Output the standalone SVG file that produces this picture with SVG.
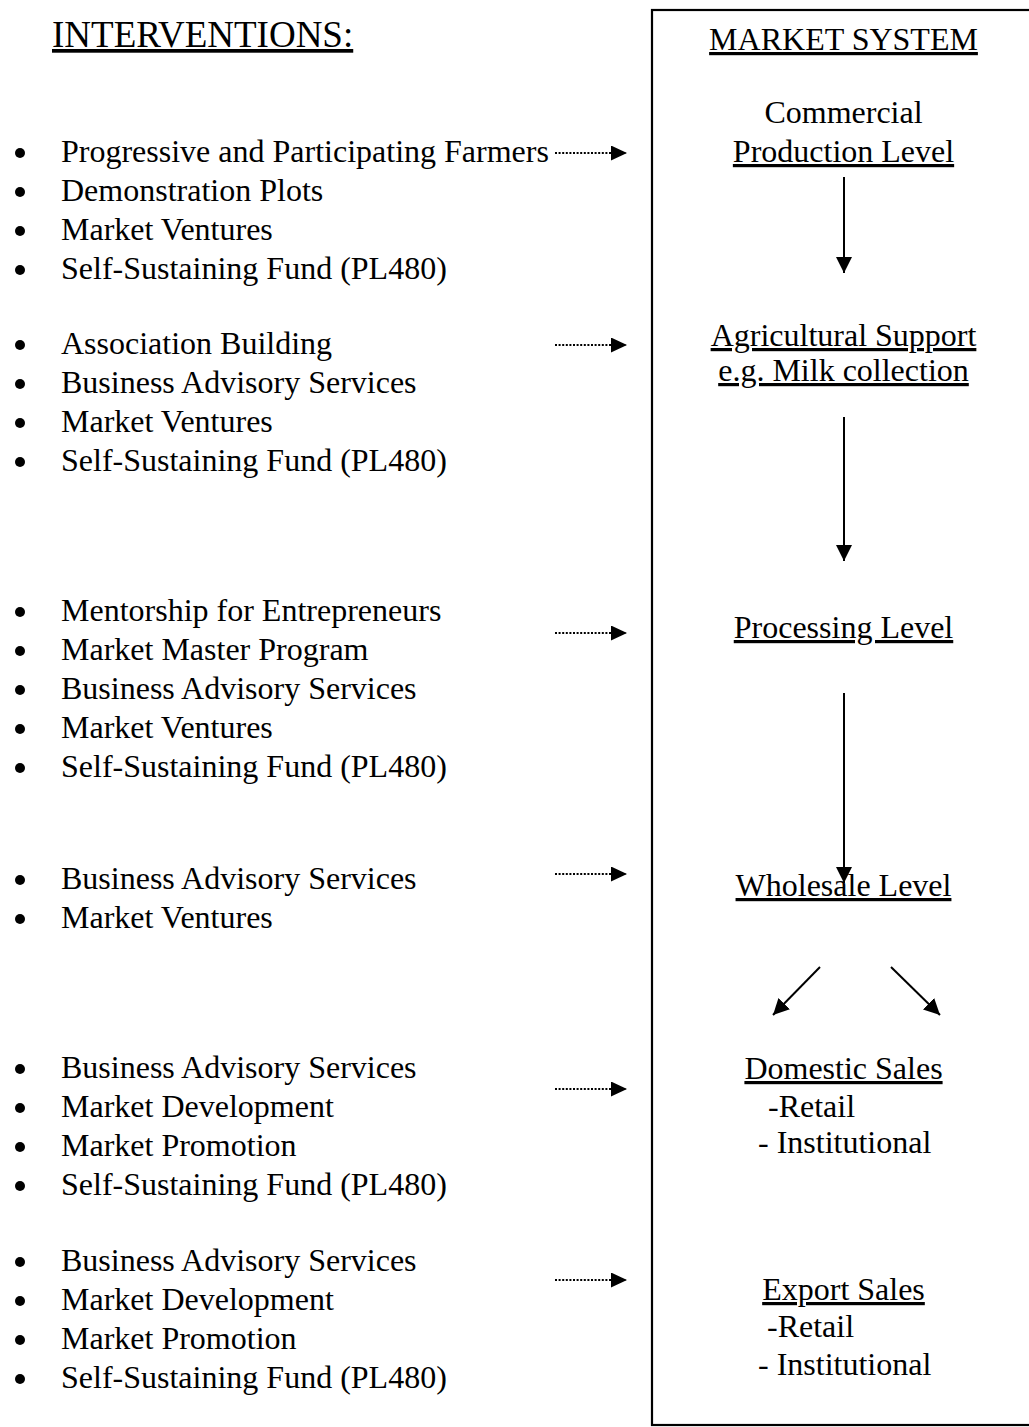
<svg xmlns="http://www.w3.org/2000/svg" width="1029" height="1427" viewBox="0 0 1029 1427">
<style>
text{font-family:"Liberation Serif","Times New Roman",serif;fill:#000}
.b{font-size:32px}
.h{font-size:37px}
.u{text-decoration:underline}
.c{text-anchor:middle}
.dot{stroke:#000;stroke-width:1.8;stroke-dasharray:2 1.6;fill:none}
.sol{stroke:#000;stroke-width:2;fill:none}
.bl{fill:#000}
</style>
<defs>
<marker id="ah" markerUnits="userSpaceOnUse" markerWidth="17" markerHeight="17" viewBox="0 0 17 17" refX="16" refY="7.5" orient="auto">
<path d="M0,0 L16,7.5 L0,15 Z" fill="#000"/>
</marker>
<marker id="av" markerUnits="userSpaceOnUse" markerWidth="18" markerHeight="18" viewBox="0 0 18 18" refX="16" refY="8" orient="auto">
<path d="M0,0 L16,8 L0,16 Z" fill="#000"/>
</marker>
</defs>
<rect width="1029" height="1427" fill="#fff"/>

<g id="interventions-title">
<text class="h u" x="52" y="47">INTERVENTIONS:</text>
</g>

<g id="market-box">
<rect x="652" y="10" width="400" height="1415" fill="none" stroke="#000" stroke-width="2.2"/>
<text class="b u c" x="843.5" y="50">MARKET SYSTEM</text>
</g>

<g id="group1">
<circle class="bl" cx="20" cy="153" r="5"/><text class="b" x="61" y="162">Progressive and Participating Farmers</text>
<circle class="bl" cx="20" cy="192" r="5"/><text class="b" x="61" y="201">Demonstration Plots</text>
<circle class="bl" cx="20" cy="231" r="5"/><text class="b" x="61" y="240">Market Ventures</text>
<circle class="bl" cx="20" cy="270" r="5"/><text class="b" x="61" y="279">Self-Sustaining Fund (PL480)</text>
</g>

<g id="group2">
<circle class="bl" cx="20" cy="345" r="5"/><text class="b" x="61" y="354">Association Building</text>
<circle class="bl" cx="20" cy="384" r="5"/><text class="b" x="61" y="393">Business Advisory Services</text>
<circle class="bl" cx="20" cy="423" r="5"/><text class="b" x="61" y="432">Market Ventures</text>
<circle class="bl" cx="20" cy="462" r="5"/><text class="b" x="61" y="471">Self-Sustaining Fund (PL480)</text>
</g>

<g id="group3">
<circle class="bl" cx="20" cy="612" r="5"/><text class="b" x="61" y="621">Mentorship for Entrepreneurs</text>
<circle class="bl" cx="20" cy="651" r="5"/><text class="b" x="61" y="660">Market Master Program</text>
<circle class="bl" cx="20" cy="690" r="5"/><text class="b" x="61" y="699">Business Advisory Services</text>
<circle class="bl" cx="20" cy="729" r="5"/><text class="b" x="61" y="738">Market Ventures</text>
<circle class="bl" cx="20" cy="768" r="5"/><text class="b" x="61" y="777">Self-Sustaining Fund (PL480)</text>
</g>

<g id="group4">
<circle class="bl" cx="20" cy="880" r="5"/><text class="b" x="61" y="889">Business Advisory Services</text>
<circle class="bl" cx="20" cy="919" r="5"/><text class="b" x="61" y="928">Market Ventures</text>
</g>

<g id="group5">
<circle class="bl" cx="20" cy="1069" r="5"/><text class="b" x="61" y="1078">Business Advisory Services</text>
<circle class="bl" cx="20" cy="1108" r="5"/><text class="b" x="61" y="1117">Market Development</text>
<circle class="bl" cx="20" cy="1147" r="5"/><text class="b" x="61" y="1156">Market Promotion</text>
<circle class="bl" cx="20" cy="1186" r="5"/><text class="b" x="61" y="1195">Self-Sustaining Fund (PL480)</text>
</g>

<g id="group6">
<circle class="bl" cx="20" cy="1262" r="5"/><text class="b" x="61" y="1271">Business Advisory Services</text>
<circle class="bl" cx="20" cy="1301" r="5"/><text class="b" x="61" y="1310">Market Development</text>
<circle class="bl" cx="20" cy="1340" r="5"/><text class="b" x="61" y="1349">Market Promotion</text>
<circle class="bl" cx="20" cy="1379" r="5"/><text class="b" x="61" y="1388">Self-Sustaining Fund (PL480)</text>
</g>

<g id="commercial-production">
<text class="b c" x="843.5" y="123">Commercial</text>
<text class="b u c" x="843.5" y="162">Production Level</text>
</g>

<g id="agricultural-support">
<text class="b u c" x="843.5" y="346">Agricultural Support</text>
<text class="b u c" x="843.5" y="381">e.g. Milk collection</text>
</g>

<g id="processing">
<text class="b u c" x="843.5" y="638">Processing Level</text>
</g>

<g id="wholesale">
<text class="b u c" x="843.5" y="896">Wholesale Level</text>
</g>

<g id="domestic-sales">
<text class="b u c" x="843.5" y="1079">Domestic Sales</text>
<text class="b" x="768" y="1117">-Retail</text>
<text class="b" x="758" y="1153">- Institutional</text>
</g>

<g id="export-sales">
<text class="b u c" x="843.5" y="1300">Export Sales</text>
<text class="b" x="767" y="1337">-Retail</text>
<text class="b" x="758" y="1375">- Institutional</text>
</g>

<g id="connectors">
<line class="dot" x1="555" y1="153" x2="627" y2="153" marker-end="url(#ah)"/>
<line class="dot" x1="555" y1="345" x2="627" y2="345" marker-end="url(#ah)"/>
<line class="dot" x1="555" y1="633" x2="627" y2="633" marker-end="url(#ah)"/>
<line class="dot" x1="555" y1="874" x2="627" y2="874" marker-end="url(#ah)"/>
<line class="dot" x1="555" y1="1089" x2="627" y2="1089" marker-end="url(#ah)"/>
<line class="dot" x1="555" y1="1280" x2="627" y2="1280" marker-end="url(#ah)"/>
<line class="sol" x1="844" y1="177" x2="844" y2="273" marker-end="url(#av)"/>
<line class="sol" x1="844" y1="417" x2="844" y2="561" marker-end="url(#av)"/>
<line class="sol" x1="844" y1="693" x2="844" y2="883" marker-end="url(#av)"/>
<line class="sol" x1="820" y1="967" x2="773" y2="1015" marker-end="url(#av)"/>
<line class="sol" x1="891" y1="967" x2="940" y2="1015" marker-end="url(#av)"/>
</g>
</svg>
